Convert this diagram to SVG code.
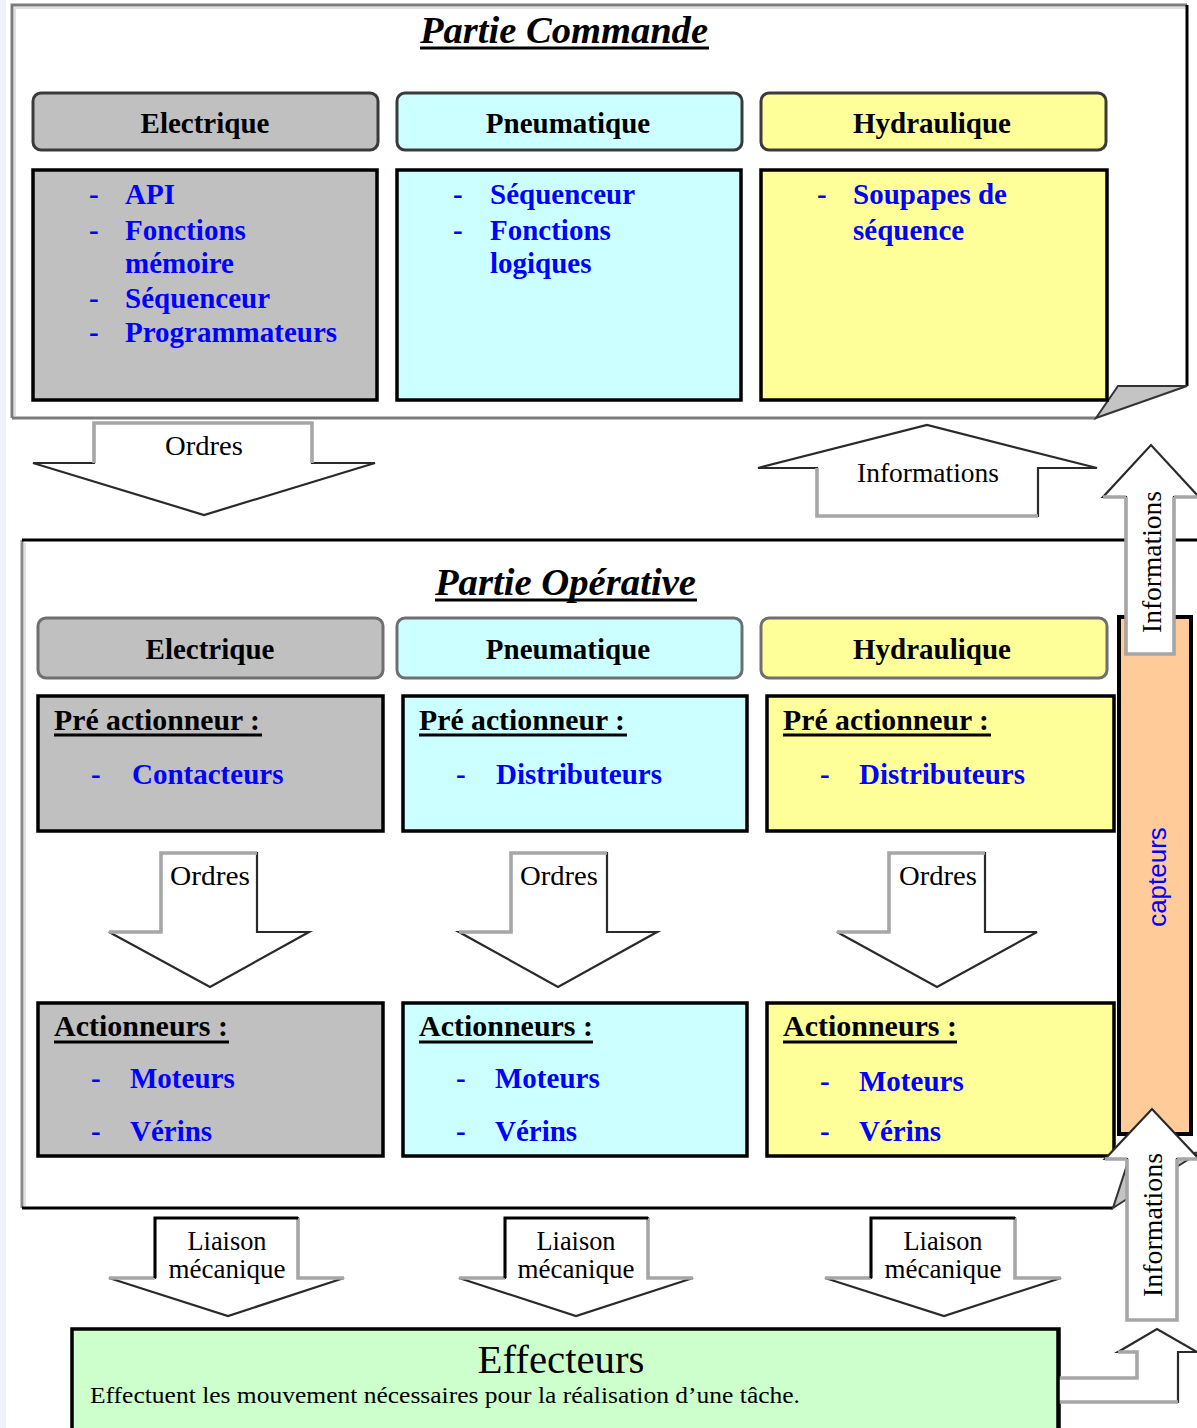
<svg xmlns="http://www.w3.org/2000/svg" width="1197" height="1428" viewBox="0 0 1197 1428">
  <style>
    .hdr { font-family: 'Liberation Serif', 'Times New Roman', serif; font-weight: bold; font-size: 29px; fill: #000; text-anchor: middle; }
    .item { font-family: 'Liberation Serif', 'Times New Roman', serif; font-weight: bold; font-size: 29px; fill: #0000ff; }
    .lbl { font-family: 'Liberation Serif', 'Times New Roman', serif; font-weight: bold; font-size: 29px; fill: #000; }
    .title { font-family: 'Liberation Serif', 'Times New Roman', serif; font-weight: bold; font-style: italic; font-size: 38px; fill: #000; }
    .atxt { font-family: 'Liberation Serif', 'Times New Roman', serif; font-size: 28px; fill: #000; text-anchor: middle; }
    .ul { stroke: #000; stroke-width: 3; }
    .elec { fill: #c0c0c0; }
    .pneu { fill: #ccffff; }
    .hydr { fill: #ffff99; }
    .box { stroke: #000; stroke-width: 3.5; }
    .cap { stroke: #3a3a3a; stroke-width: 3; }
    .cap2 { stroke: #6f6f6f; stroke-width: 3; }
    .arrow { fill: #fff; stroke: #2a2a2a; stroke-width: 2.2; stroke-linejoin: miter; }
    .gr { fill: none; stroke: #a6a6a6; stroke-width: 3.5; }
    .bk { fill: none; stroke: #000; stroke-width: 3; }
  </style>

  <!-- faint page margin on the left -->
  <rect x="0" y="0" width="6" height="1428" fill="#eef3fb"/>

  <!-- ===== Partie Commande ===== -->
  <g id="partie-commande">
    <rect x="12" y="5" width="1175" height="413" fill="#fff"/>
    <path d="M12,418 V5 H1187" fill="none" stroke="#7c7c7c" stroke-width="3"/>
    <path d="M15,416 V8 H1185" fill="none" stroke="#d6d6d6" stroke-width="1.5"/>
    <path d="M12,418 H1096" fill="none" stroke="#7c7c7c" stroke-width="3"/>
    <path d="M1187,5 V386" fill="none" stroke="#000" stroke-width="3"/>
    <!-- folded corner -->
    <polygon points="1118,386 1187,386 1096,418" fill="#c4c4c4" stroke="#333" stroke-width="2"/>
    <text class="title" x="420" y="43" textLength="288" lengthAdjust="spacingAndGlyphs">Partie Commande</text>
    <line class="ul" x1="420" y1="48" x2="709" y2="48"/>
  </g>

  <g id="cmd-electrique">
    <rect class="elec cap" x="33" y="93" width="345" height="57" rx="8"/>
    <text class="hdr" x="205" y="133">Electrique</text>
    <rect class="elec box" x="33" y="170" width="344" height="230"/>
    <text class="item" x="89" y="204">-</text><text class="item" x="125" y="204">API</text>
    <text class="item" x="89" y="240">-</text><text class="item" x="125" y="240">Fonctions</text>
    <text class="item" x="125" y="273">mémoire</text>
    <text class="item" x="89" y="308">-</text><text class="item" x="125" y="308">Séquenceur</text>
    <text class="item" x="89" y="342">-</text><text class="item" x="125" y="342">Programmateurs</text>
  </g>

  <g id="cmd-pneumatique">
    <rect class="pneu cap" x="397" y="93" width="345" height="57" rx="8"/>
    <text class="hdr" x="568" y="133">Pneumatique</text>
    <rect class="pneu box" x="397" y="170" width="344" height="230"/>
    <text class="item" x="453" y="204">-</text><text class="item" x="490" y="204">Séquenceur</text>
    <text class="item" x="453" y="240">-</text><text class="item" x="490" y="240">Fonctions</text>
    <text class="item" x="490" y="273">logiques</text>
  </g>

  <g id="cmd-hydraulique">
    <rect class="hydr cap" x="761" y="93" width="345" height="57" rx="8"/>
    <text class="hdr" x="932" y="133">Hydraulique</text>
    <rect class="hydr box" x="761" y="170" width="346" height="230"/>
    <text class="item" x="817" y="204">-</text><text class="item" x="853" y="204">Soupapes de</text>
    <text class="item" x="853" y="240">séquence</text>
  </g>

  <!-- ===== Partie Opérative ===== -->
  <g id="partie-operative">
    <rect x="22" y="540" width="1180" height="668" fill="#fff"/>
    <path d="M22,1208 V540" fill="none" stroke="#8a8a8a" stroke-width="3"/>
    <path d="M25,1206 V543" fill="none" stroke="#d6d6d6" stroke-width="1.5"/>
    <path d="M22,540 H1200" fill="none" stroke="#000" stroke-width="3"/>
    <path d="M22,1208 H1113" fill="none" stroke="#000" stroke-width="3"/>
    <!-- folded corner -->
    <polygon points="1128,1162 1200,1152 1113,1208" fill="#c4c4c4" stroke="#333" stroke-width="2"/>
    <text class="title" x="435" y="595" textLength="261" lengthAdjust="spacingAndGlyphs">Partie Opérative</text>
    <line class="ul" x1="435" y1="600" x2="697" y2="600"/>
  </g>

  <g id="op-electrique">
    <rect class="elec cap2" x="38" y="618" width="345" height="60" rx="8"/>
    <text class="hdr" x="210" y="659">Electrique</text>
  </g>
  <g id="op-pneumatique">
    <rect class="pneu cap2" x="397" y="618" width="345" height="60" rx="8"/>
    <text class="hdr" x="568" y="659">Pneumatique</text>
  </g>
  <g id="op-hydraulique">
    <rect class="hydr cap2" x="761" y="618" width="346" height="60" rx="8"/>
    <text class="hdr" x="932" y="659">Hydraulique</text>
  </g>

  <!-- pre-actuators -->
  <g id="pre-electrique">
    <rect class="elec box" x="38" y="696" width="345" height="135"/>
    <text class="lbl" x="54" y="730" textLength="206" lengthAdjust="spacingAndGlyphs">Pré actionneur :</text>
    <line class="ul" x1="54" y1="735" x2="262" y2="735" stroke-width="2.5"/>
    <text class="item" x="91" y="784">-</text><text class="item" x="132" y="784">Contacteurs</text>
  </g>
  <g id="pre-pneumatique">
    <rect class="pneu box" x="403" y="696" width="344" height="135"/>
    <text class="lbl" x="419" y="730" textLength="206" lengthAdjust="spacingAndGlyphs">Pré actionneur :</text>
    <line class="ul" x1="419" y1="735" x2="627" y2="735" stroke-width="2.5"/>
    <text class="item" x="456" y="784">-</text><text class="item" x="496" y="784">Distributeurs</text>
  </g>
  <g id="pre-hydraulique">
    <rect class="hydr box" x="767" y="696" width="347" height="135"/>
    <text class="lbl" x="783" y="730" textLength="206" lengthAdjust="spacingAndGlyphs">Pré actionneur :</text>
    <line class="ul" x1="783" y1="735" x2="991" y2="735" stroke-width="2.5"/>
    <text class="item" x="820" y="784">-</text><text class="item" x="859" y="784">Distributeurs</text>
  </g>

  <!-- actuators -->
  <g id="act-electrique">
    <rect class="elec box" x="38" y="1003" width="345" height="153"/>
    <text class="lbl" x="54" y="1036" textLength="174" lengthAdjust="spacingAndGlyphs">Actionneurs :</text>
    <line class="ul" x1="54" y1="1042" x2="229" y2="1042" stroke-width="2.5"/>
    <text class="item" x="91" y="1088">-</text><text class="item" x="130" y="1088">Moteurs</text>
    <text class="item" x="91" y="1141">-</text><text class="item" x="130" y="1141">Vérins</text>
  </g>
  <g id="act-pneumatique">
    <rect class="pneu box" x="403" y="1003" width="344" height="153"/>
    <text class="lbl" x="419" y="1036" textLength="174" lengthAdjust="spacingAndGlyphs">Actionneurs :</text>
    <line class="ul" x1="419" y1="1042" x2="593" y2="1042" stroke-width="2.5"/>
    <text class="item" x="456" y="1088">-</text><text class="item" x="495" y="1088">Moteurs</text>
    <text class="item" x="456" y="1141">-</text><text class="item" x="495" y="1141">Vérins</text>
  </g>
  <g id="act-hydraulique">
    <rect class="hydr box" x="767" y="1003" width="347" height="153"/>
    <text class="lbl" x="783" y="1036" textLength="174" lengthAdjust="spacingAndGlyphs">Actionneurs :</text>
    <line class="ul" x1="783" y1="1042" x2="957" y2="1042" stroke-width="2.5"/>
    <text class="item" x="820" y="1091">-</text><text class="item" x="859" y="1091">Moteurs</text>
    <text class="item" x="820" y="1141">-</text><text class="item" x="859" y="1141">Vérins</text>
  </g>

  <!-- sensors bar -->
  <g id="capteurs">
    <rect x="1119" y="617" width="72" height="517" fill="#ffcc99" stroke="#000" stroke-width="4"/>
    <text transform="translate(1166,877) rotate(-90)" font-family="'Liberation Sans', Arial, sans-serif" font-size="26" fill="#0000ff" text-anchor="middle">capteurs</text>
  </g>

  <!-- effectors -->
  <g id="effecteurs">
    <rect x="72" y="1329" width="987" height="120" fill="#ccffcc" stroke="#000" stroke-width="3.5"/>
    <text x="561" y="1373" font-family="'Liberation Serif', 'Times New Roman', serif" font-size="40" text-anchor="middle" textLength="167" lengthAdjust="spacingAndGlyphs">Effecteurs</text>
    <text x="90" y="1403" font-family="'Liberation Serif', 'Times New Roman', serif" font-size="24" textLength="710" lengthAdjust="spacingAndGlyphs">Effectuent les mouvement nécessaires pour la réalisation d’une tâche.</text>
  </g>

  <!-- ===== block arrows ===== -->
  <g id="connectors">
    <!-- Ordres: command -> operative -->
    <g id="arrow-ordres-main">
      <polygon class="arrow" points="94,423 312,423 312,463 375,463 204,515 33,463 94,463"/>
      <polyline class="gr" points="94,463 94,423 312,423 312,463"/>
      <text class="atxt" x="204" y="455" textLength="78" lengthAdjust="spacingAndGlyphs">Ordres</text>
    </g>
    <!-- Informations: operative -> command -->
    <g id="arrow-infos-main">
      <polygon class="arrow" points="817,516 1038,516 1038,468 1097,468 927,425 758,468 817,468"/>
      <polyline class="gr" points="817,468 817,516 1038,516"/>
      <text class="atxt" x="928" y="482" textLength="142" lengthAdjust="spacingAndGlyphs">Informations</text>
    </g>
    <!-- Informations: capteurs -> command -->
    <g id="arrow-infos-capteurs">
      <polygon class="arrow" points="1126,654 1174,654 1174,497 1199,497 1151,445 1103,497 1126,497"/>
      <polyline class="gr" points="1126,497 1126,654 1174,654 1174,497"/>
      <polyline class="gr" points="1103,497 1126,497"/>
      <polyline class="gr" points="1174,497 1199,497"/>
      <text transform="translate(1161,562) rotate(-90)" class="atxt" font-size="27" textLength="142" lengthAdjust="spacingAndGlyphs">Informations</text>
    </g>
    <!-- Ordres: pre-actuators -> actuators -->
    <g id="arrow-ordres-1">
      <polygon class="arrow" points="161,853 257,853 257,932 309,932 210,987 109,932 161,932"/>
      <polyline class="gr" points="109,932 161,932 161,853 257,853"/>
      <text class="atxt" x="210" y="885" textLength="80" lengthAdjust="spacingAndGlyphs">Ordres</text>
    </g>
    <g id="arrow-ordres-2">
      <polygon class="arrow" points="511,853 607,853 607,932 657,932 558,987 459,932 511,932"/>
      <polyline class="gr" points="459,932 511,932 511,853 607,853"/>
      <text class="atxt" x="559" y="885" textLength="78" lengthAdjust="spacingAndGlyphs">Ordres</text>
    </g>
    <g id="arrow-ordres-3">
      <polygon class="arrow" points="889,853 985,853 985,932 1037,932 937,987 837,932 889,932"/>
      <polyline class="gr" points="837,932 889,932 889,853 985,853"/>
      <text class="atxt" x="938" y="885" textLength="78" lengthAdjust="spacingAndGlyphs">Ordres</text>
    </g>
    <!-- Liaison mécanique: actuators -> effectors -->
    <g id="arrow-liaison-1">
      <polygon class="arrow" points="155,1218 298,1218 298,1278 344,1278 228,1316 109,1278 155,1278"/>
      <polyline class="gr" points="109,1278 155,1278"/>
      <polyline class="gr" points="298,1218 298,1278 344,1278"/>
      <polyline class="bk" points="155,1278 155,1218 298,1218"/>
      <text class="atxt" x="227" y="1250" textLength="79" lengthAdjust="spacingAndGlyphs">Liaison</text>
      <text class="atxt" x="227" y="1278" textLength="117" lengthAdjust="spacingAndGlyphs">mécanique</text>
    </g>
    <g id="arrow-liaison-2">
      <polygon class="arrow" points="505,1218 648,1218 648,1278 693,1278 576,1316 459,1278 505,1278"/>
      <polyline class="gr" points="459,1278 505,1278"/>
      <polyline class="gr" points="648,1218 648,1278 693,1278"/>
      <polyline class="bk" points="505,1278 505,1218 648,1218"/>
      <text class="atxt" x="576" y="1250" textLength="79" lengthAdjust="spacingAndGlyphs">Liaison</text>
      <text class="atxt" x="576" y="1278" textLength="117" lengthAdjust="spacingAndGlyphs">mécanique</text>
    </g>
    <g id="arrow-liaison-3">
      <polygon class="arrow" points="871,1218 1015,1218 1015,1278 1061,1278 944,1316 825,1278 871,1278"/>
      <polyline class="gr" points="825,1278 871,1278"/>
      <polyline class="gr" points="1015,1218 1015,1278 1061,1278"/>
      <polyline class="bk" points="871,1278 871,1218 1015,1218"/>
      <text class="atxt" x="943" y="1250" textLength="79" lengthAdjust="spacingAndGlyphs">Liaison</text>
      <text class="atxt" x="943" y="1278" textLength="117" lengthAdjust="spacingAndGlyphs">mécanique</text>
    </g>
    <!-- Informations: effectors -> capteurs -->
    <g id="arrow-infos-effecteurs">
      <polygon class="arrow" points="1127,1320 1177,1320 1177,1159 1199,1159 1152,1109 1105,1159 1127,1159"/>
      <polyline class="gr" points="1127,1159 1127,1320 1177,1320 1177,1159"/>
      <polyline class="gr" points="1105,1159 1127,1159"/>
      <polyline class="gr" points="1177,1159 1199,1159"/>
      <text transform="translate(1162,1225) rotate(-90)" class="atxt" font-size="27" textLength="144" lengthAdjust="spacingAndGlyphs">Informations</text>
    </g>
    <!-- bent arrow leaving the effectors -->
    <g id="arrow-effecteurs-out">
      <polygon class="arrow" points="1058,1378 1137,1378 1137,1352 1118,1352 1157,1329 1197,1352 1178,1352 1178,1402 1058,1402"/>
      <polyline class="gr" points="1058,1378 1137,1378 1137,1352 1118,1352"/>
      <polyline class="gr" points="1058,1402 1178,1402"/>
      <line x1="1058" y1="1329" x2="1058" y2="1428" stroke="#000" stroke-width="3.5"/>
    </g>
  </g>
</svg>
